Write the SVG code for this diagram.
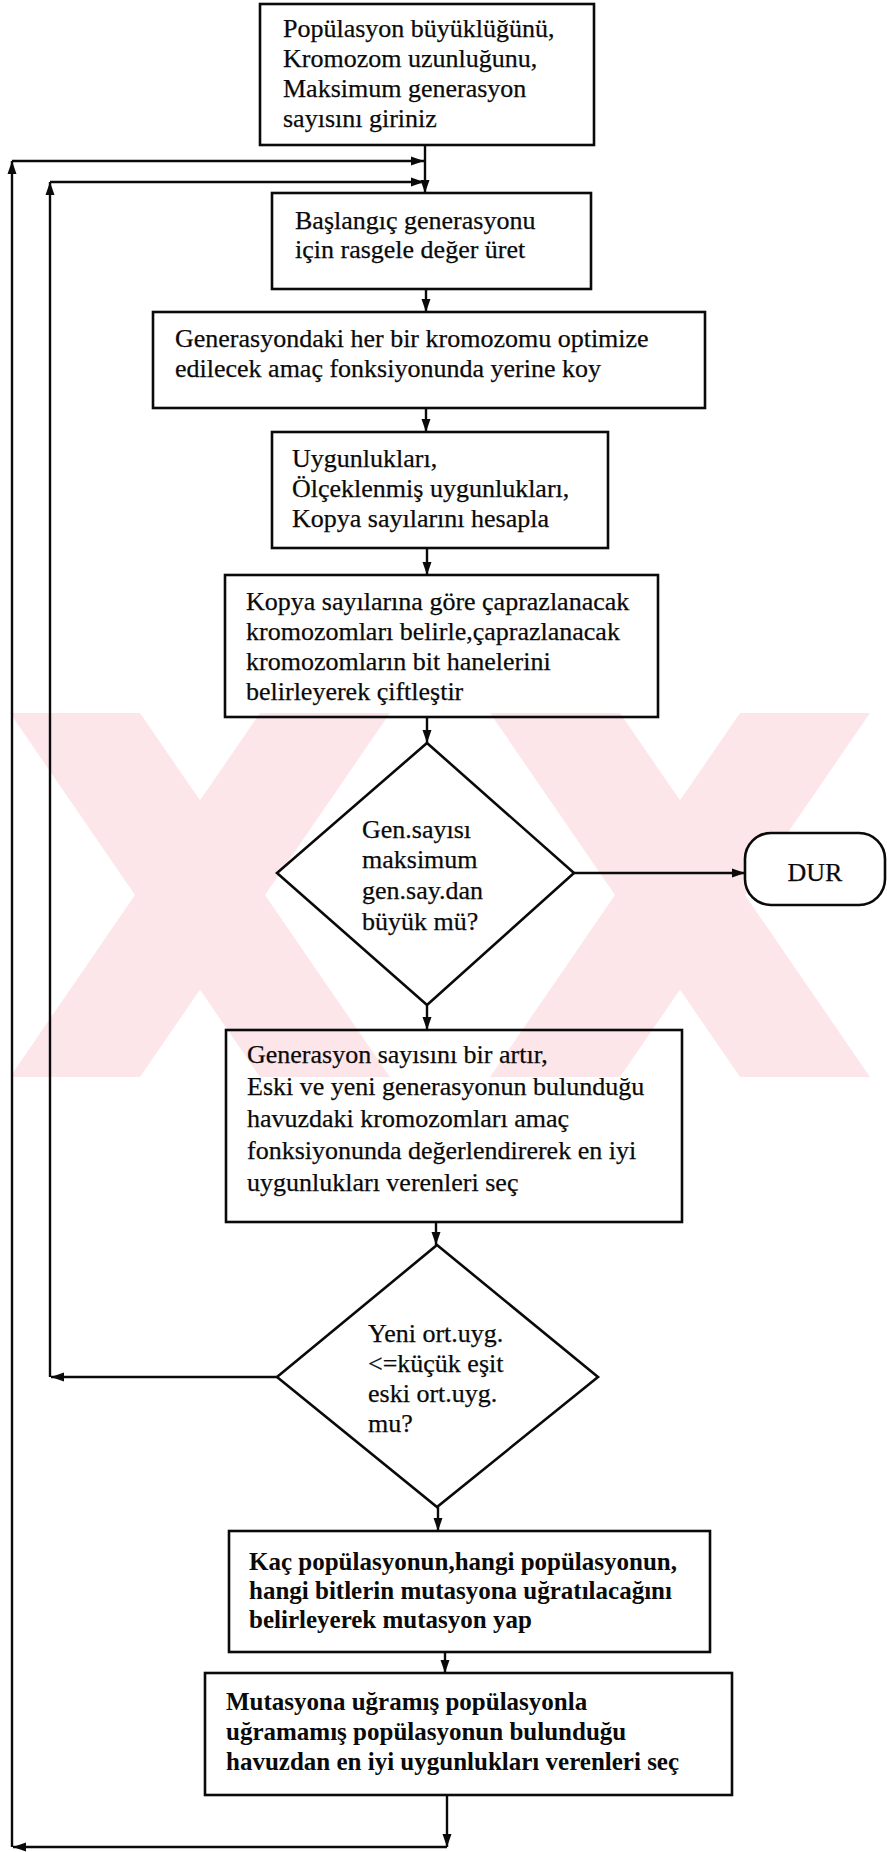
<svg xmlns="http://www.w3.org/2000/svg" width="887" height="1852" viewBox="0 0 887 1852">
<style>
.box{fill:none;stroke:#0a0a0a;stroke-width:2.6}
.t{font-family:"Liberation Serif","Times New Roman",serif;font-size:26px;fill:#0a0a0a;stroke:#0a0a0a;stroke-width:0.25}
.tb{font-family:"Liberation Serif","Times New Roman",serif;font-size:25px;font-weight:bold;fill:#0a0a0a}
.ln{fill:none;stroke:#0a0a0a;stroke-width:2.4}
.wm{fill:#fce6ea}
</style>
<defs>
<marker id="ah" markerUnits="userSpaceOnUse" markerWidth="14" markerHeight="10" refX="13" refY="5" orient="auto">
<path d="M0,0.5 L13,5 L0,9.5 z" fill="#0a0a0a"/>
</marker>
</defs>
<rect width="887" height="1852" fill="#fff"/>

<g id="watermark">
<polygon class="wm" points="10,713 140,713 390,1077 260,1077"/>
<polygon class="wm" points="260,713 390,713 140,1077 10,1077"/>
<polygon class="wm" points="490,713 620,713 870,1077 740,1077"/>
<polygon class="wm" points="740,713 870,713 620,1077 490,1077"/>
</g>

<g id="connectors">
<line class="ln" x1="425" y1="145" x2="425" y2="193" marker-end="url(#ah)"/>
<polyline class="ln" points="12,1847 12,161" marker-end="url(#ah)"/>
<line class="ln" x1="12" y1="161" x2="424" y2="161" marker-end="url(#ah)"/>
<polyline class="ln" points="50,1377 50,182" marker-end="url(#ah)"/>
<line class="ln" x1="50" y1="182" x2="424" y2="182" marker-end="url(#ah)"/>
<line class="ln" x1="426" y1="289" x2="426" y2="312" marker-end="url(#ah)"/>
<line class="ln" x1="426" y1="408" x2="426" y2="432" marker-end="url(#ah)"/>
<line class="ln" x1="427" y1="548" x2="427" y2="575" marker-end="url(#ah)"/>
<line class="ln" x1="427" y1="717" x2="427" y2="743" marker-end="url(#ah)"/>
<line class="ln" x1="574" y1="873" x2="745" y2="873" marker-end="url(#ah)"/>
<line class="ln" x1="427" y1="1005" x2="427" y2="1030" marker-end="url(#ah)"/>
<line class="ln" x1="436" y1="1222" x2="436" y2="1245" marker-end="url(#ah)"/>
<line class="ln" x1="277" y1="1377" x2="51" y2="1377" marker-end="url(#ah)"/>
<line class="ln" x1="438" y1="1507" x2="438" y2="1531" marker-end="url(#ah)"/>
<line class="ln" x1="445" y1="1652" x2="445" y2="1673" marker-end="url(#ah)"/>
<line class="ln" x1="447" y1="1795" x2="447" y2="1847" marker-end="url(#ah)"/>
<line class="ln" x1="447" y1="1847" x2="13" y2="1847" marker-end="url(#ah)"/>
</g>

<g id="n1">
<rect class="box" x="260" y="4" width="334" height="141"/>
<text class="t" x="283" y="37">Popülasyon büyüklüğünü,</text>
<text class="t" x="283" y="67">Kromozom uzunluğunu,</text>
<text class="t" x="283" y="97">Maksimum generasyon</text>
<text class="t" x="283" y="127">sayısını giriniz</text>
</g>

<g id="n2">
<rect class="box" x="272" y="193" width="319" height="96"/>
<text class="t" x="295" y="229">Başlangıç generasyonu</text>
<text class="t" x="295" y="258">için rasgele değer üret</text>
</g>

<g id="n3">
<rect class="box" x="153" y="312" width="552" height="96"/>
<text class="t" x="175" y="347">Generasyondaki her bir kromozomu optimize</text>
<text class="t" x="175" y="377">edilecek amaç fonksiyonunda yerine koy</text>
</g>

<g id="n4">
<rect class="box" x="272" y="432" width="336" height="116"/>
<text class="t" x="292" y="467">Uygunlukları,</text>
<text class="t" x="292" y="497">Ölçeklenmiş uygunlukları,</text>
<text class="t" x="292" y="527">Kopya sayılarını hesapla</text>
</g>

<g id="n5">
<rect class="box" x="225" y="575" width="433" height="142"/>
<text class="t" x="246" y="610">Kopya sayılarına göre çaprazlanacak</text>
<text class="t" x="246" y="640">kromozomları belirle,çaprazlanacak</text>
<text class="t" x="246" y="670">kromozomların bit hanelerini</text>
<text class="t" x="246" y="700">belirleyerek çiftleştir</text>
</g>

<g id="d1">
<polygon class="box" points="427,743 574,873 427,1005 277,873"/>
<text class="t" x="362" y="838">Gen.sayısı</text>
<text class="t" x="362" y="868">maksimum</text>
<text class="t" x="362" y="899">gen.say.dan</text>
<text class="t" x="362" y="930">büyük mü?</text>
</g>

<g id="stop">
<rect x="745" y="833" width="140" height="72" rx="26" fill="#fff" stroke="#0a0a0a" stroke-width="2.6"/>
<text class="t" x="815" y="881" text-anchor="middle">DUR</text>
</g>

<g id="n6">
<rect class="box" x="226" y="1030" width="456" height="192"/>
<text class="t" x="247" y="1063">Generasyon sayısını bir artır,</text>
<text class="t" x="247" y="1095">Eski ve yeni generasyonun bulunduğu</text>
<text class="t" x="247" y="1127">havuzdaki kromozomları amaç</text>
<text class="t" x="247" y="1159">fonksiyonunda değerlendirerek en iyi</text>
<text class="t" x="247" y="1191">uygunlukları verenleri seç</text>
</g>

<g id="d2">
<polygon class="box" points="437,1245 598,1377 437,1507 277,1377"/>
<text class="t" x="368" y="1342">Yeni ort.uyg.</text>
<text class="t" x="368" y="1372">&lt;=küçük eşit</text>
<text class="t" x="368" y="1402">eski ort.uyg.</text>
<text class="t" x="368" y="1432">mu?</text>
</g>

<g id="n7">
<rect class="box" x="229" y="1531" width="481" height="121"/>
<text class="tb" x="249" y="1570">Kaç popülasyonun,hangi popülasyonun,</text>
<text class="tb" x="249" y="1599">hangi bitlerin mutasyona uğratılacağını</text>
<text class="tb" x="249" y="1628">belirleyerek mutasyon yap</text>
</g>

<g id="n8">
<rect class="box" x="205" y="1673" width="527" height="122"/>
<text class="tb" x="226" y="1710">Mutasyona uğramış popülasyonla</text>
<text class="tb" x="226" y="1740">uğramamış popülasyonun bulunduğu</text>
<text class="tb" x="226" y="1770">havuzdan en iyi uygunlukları verenleri seç</text>
</g>
</svg>
